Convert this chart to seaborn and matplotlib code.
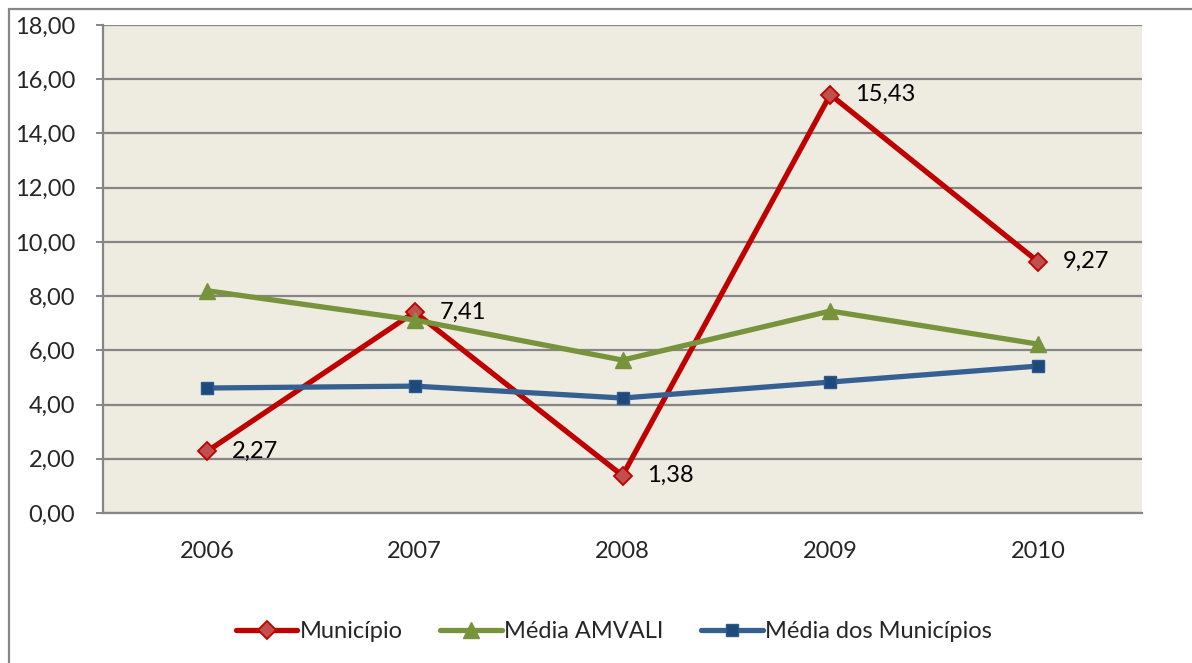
import pandas as pd
import seaborn as sns
import matplotlib.pyplot as plt
from matplotlib.patches import Rectangle

years = ["2006", "2007", "2008", "2009", "2010"]
municipio = [2.27, 7.41, 1.38, 15.43, 9.27]
media_amvali = [8.20, 7.12, 5.64, 7.45, 6.23]
media_municipios = [4.61, 4.68, 4.24, 4.83, 5.42]

series_names = ["Município", "Média AMVALI", "Média dos Municípios"]

sns.set_style("white")
plt.rcParams["font.family"] = ["Lato", "DejaVu Sans"]

df = pd.DataFrame({
    "ano": years * 3,
    "valor": municipio + media_amvali + media_municipios,
    "serie": [series_names[0]] * 5 + [series_names[1]] * 5 + [series_names[2]] * 5,
})

fig = plt.figure(figsize=(11.92, 6.63), dpi=100)
ax = fig.add_axes([103 / 1192, 150 / 663, (1142 - 103) / 1192, (513 - 25) / 663])
ax.set_facecolor("#EEEBE0")

# estilos de cada serie
estilos = {
    "Município": dict(color="#C00000", marker="D", markersize=9, mfc="#C0504D", mec="#C00000", mew=1.3),
    "Média AMVALI": dict(color="#77933C", marker="^", markersize=11, mfc="#77933C", mec="#77933C", mew=1),
    "Média dos Municípios": dict(color="#376092", marker="s", markersize=9, mfc="#1F497D", mec="#2C5A8C", mew=1),
}

for nome in series_names:
    sub = df[df["serie"] == nome]
    e = estilos[nome]
    sns.lineplot(data=sub, x="ano", y="valor", ax=ax, color=e["color"], linewidth=3.8,
                 marker=e["marker"], markersize=e["markersize"], markerfacecolor=e["mfc"],
                 markeredgecolor=e["mec"], markeredgewidth=e["mew"], label=nome)

# rotulos dos dados do municipio
for i, v in enumerate(municipio):
    ax.annotate(f"{v:.2f}".replace(".", ","), (i, v), xytext=(18, 0), textcoords="offset points",
                va="center", ha="left", fontsize=17, color="black")

ax.set_xlim(-0.5, 4.5)
ax.set_ylim(0, 18)
ax.set_yticks(range(0, 19, 2))
ax.set_yticklabels([f"{t:.2f}".replace(".", ",") for t in range(0, 19, 2)])
ax.set_xlabel("")
ax.set_ylabel("")
ax.yaxis.grid(True, color="#868686", linewidth=1.6)
ax.set_axisbelow(True)
ax.tick_params(axis="y", labelsize=17, length=5, color="#868686", width=1.4, pad=15, direction="out", left=True)
ax.tick_params(axis="x", labelsize=17, length=0, pad=20)

for s in ["top", "right"]:
    ax.spines[s].set_visible(False)
for s in ["left", "bottom"]:
    ax.spines[s].set_color("#868686")
    ax.spines[s].set_linewidth(1.6)

leg = ax.legend(loc="center", bbox_to_anchor=(0.515, 31 / 663), bbox_transform=fig.transFigure,
                ncol=3, frameon=False, fontsize=17, handlelength=2.6, columnspacing=1.6,
                handletextpad=0.1)

# moldura externa do grafico
fig.patches.append(Rectangle((9 / 1192, -0.1), 1.2, 1 - 9 / 663 + 0.1, transform=fig.transFigure,
                             fill=False, edgecolor="#868686", linewidth=1.6))

fig.savefig("out.png", dpi=100)
